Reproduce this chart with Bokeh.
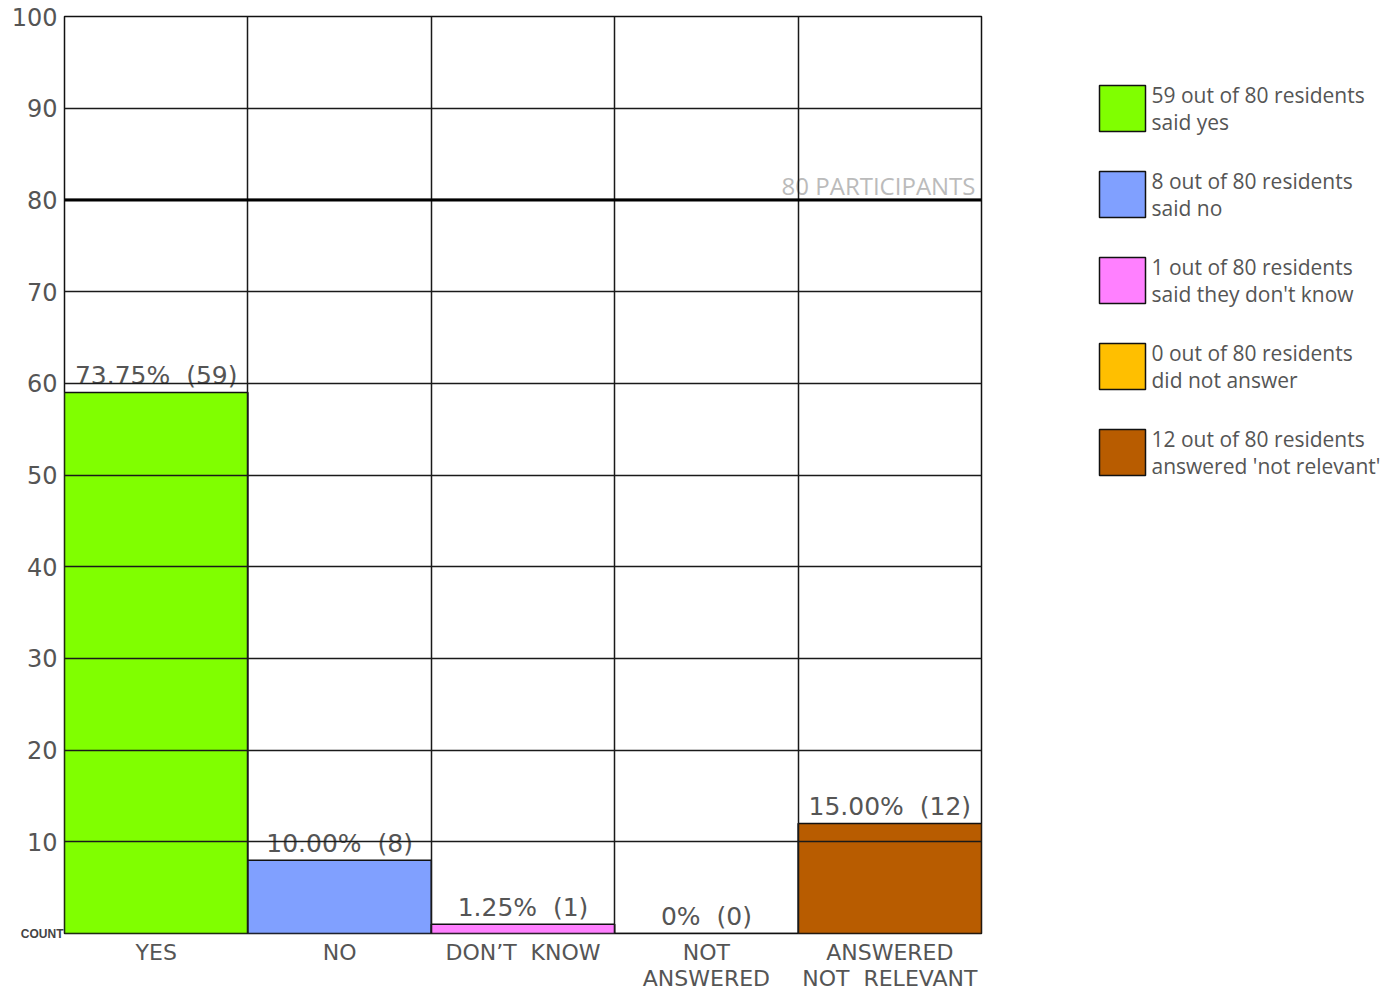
from bokeh.plotting import figure
from bokeh.layouts import row
from bokeh.models import (ColumnDataSource, Range1d, FixedTicker, Span, Label,
                          LinearAxis)
from bokeh.core.properties import value
from bokeh.embed import file_html
from bokeh.resources import INLINE

NB = "\u00a0"
categories = ["YES", "NO", "DON\u2019T" + NB + NB + "KNOW", "NOT\nANSWERED",
              "ANSWERED\nNOT" + NB + NB + "RELEVANT"]
counts = [59, 8, 1, 0, 12]
percent_labels = ["73.75%" + NB + NB + "(59)", "10.00%" + NB + NB + "(8)",
                  "1.25%" + NB + NB + "(1)", "0%" + NB + NB + "(0)",
                  "15.00%" + NB + NB + "(12)"]
colors = ["#80ff00", "#80a0ff", "#ff80ff", "#ffbf00", "#b85c00"]
legend_labels = [
    "59 out of 80 residents\nsaid yes",
    "8 out of 80 residents\nsaid no",
    "1 out of 80 residents\nsaid they don't know",
    "0 out of 80 residents\ndid not answer",
    "12 out of 80 residents\nanswered 'not relevant'",
]
participants = 80
y_ticks = [0, 10, 20, 30, 40, 50, 60, 70, 80, 90, 100]
zero_label = "COUNT"

n = len(categories)
centers = [i + 0.5 for i in range(n)]

src = ColumnDataSource(dict(x=centers, top=counts, color=colors,
                            label=percent_labels))

MAIN_W, TOTAL_W, H = 1000, 1387, 995
B_TOP, B_BOTTOM = 16, 62

p = figure(width=MAIN_W, height=H, output_backend="svg", toolbar_location=None,
           x_range=Range1d(0, n), y_range=Range1d(0, 100),
           min_border_left=64, min_border_right=19, min_border_top=B_TOP,
           min_border_bottom=B_BOTTOM)

p.outline_line_color = "#111111"
p.outline_line_width = 1.5
p.background_fill_color = "white"
p.border_fill_color = "white"

bars = p.vbar(x="x", top="top", bottom=0, width=1.0, source=src,
              fill_color="color", line_color="#111111", line_width=1.5)

p.text(x="x", y="top", text="label", source=src, text_align="center",
       text_baseline="alphabetic", y_offset=-17,
       text_font=value("DejaVu Sans"), text_font_size="25px",
       text_color="#555555")

# grids
p.xgrid.ticker = FixedTicker(ticks=list(range(n + 1)))
p.ygrid.ticker = FixedTicker(ticks=y_ticks)
for g in (p.xgrid, p.ygrid):
    g.grid_line_color = "#1a1a1a"
    g.grid_line_width = 1.5
    g.level = "overlay"

# x axis
p.xaxis.ticker = FixedTicker(ticks=centers)
p.xaxis.major_label_overrides = {c: lab for c, lab in zip(centers, categories)}
p.xaxis.major_label_text_font_size = "22px"
p.xaxis.major_label_text_line_height = 1.05
p.xaxis.major_label_standoff = 6

# inner left axis: only the "COUNT" label at zero
p.yaxis.ticker = FixedTicker(ticks=[0])
p.yaxis.major_label_overrides = {0: zero_label}
p.yaxis.major_label_text_font = "Liberation Sans"
p.yaxis.major_label_text_font_style = "bold"
p.yaxis.major_label_text_font_size = "12px"
p.yaxis.major_label_text_color = "#444444"
p.yaxis.major_label_standoff = 1

# outer left axis: numeric tick labels, pulled in over the inner one
num_axis = LinearAxis(ticker=FixedTicker(ticks=[t for t in y_ticks if t != 0]),
                      major_label_text_font="DejaVu Sans",
                      major_label_text_font_size="24px",
                      major_label_text_color="#555555",
                      major_label_standoff=-40)
p.add_layout(num_axis, "left")

for ax in p.xaxis + p.yaxis:
    ax.axis_line_color = None
    ax.major_tick_line_color = None
    ax.minor_tick_line_color = None
    ax.major_tick_out = 0
    ax.major_tick_in = 0
    ax.minor_tick_out = 0
    ax.minor_tick_in = 0
p.xaxis.major_label_text_color = "#555555"
p.xaxis.major_label_text_font = "DejaVu Sans"

# participants line
p.add_layout(Span(location=participants, dimension="width", line_color="black",
                  line_width=3, level="overlay"))
p.add_layout(Label(x=n, y=participants, x_offset=-6, y_offset=-2,
                   text=f"{participants} PARTICIPANTS", text_align="right",
                   text_baseline="bottom", text_font="Open Sans",
                   text_font_size="24px", text_color="#bbbbbb"))

# legend panel (coordinates in page pixels, y downward; frame aligned with main)
LEG_X0, LEG_TOP, LEG_STEP, BOX = 1099, 85, 86, 46
lg = figure(width=TOTAL_W - MAIN_W, height=H, output_backend="svg",
            toolbar_location=None,
            x_range=Range1d(MAIN_W, TOTAL_W), y_range=Range1d(H - B_BOTTOM, B_TOP),
            min_border=0, min_border_left=0, min_border_right=0,
            min_border_top=B_TOP, min_border_bottom=B_BOTTOM)
lg.axis.visible = False
lg.grid.visible = False
lg.outline_line_color = None
lg.background_fill_color = "white"
lg.border_fill_color = "white"

tops = [LEG_TOP + i * LEG_STEP for i in range(n)]
leg_src = ColumnDataSource(dict(
    left=[LEG_X0] * n, right=[LEG_X0 + BOX] * n, top=tops,
    bottom=[t + BOX for t in tops], color=colors,
    tx=[LEG_X0 + BOX + 6] * n, ty=[t + BOX / 2 for t in tops],
    label=legend_labels))
lg.quad(left="left", right="right", top="top", bottom="bottom",
        source=leg_src, fill_color="color", line_color="#111111",
        line_width=1.5)
lg.text(x="tx", y="ty", text="label", source=leg_src, text_align="left",
        text_baseline="middle", text_font=value("Open Sans"),
        text_font_size="21px", text_line_height=0.95, text_color="#555555")

layout = row(p, lg, spacing=0)
open("out.html", "w").write(file_html(layout, INLINE))
